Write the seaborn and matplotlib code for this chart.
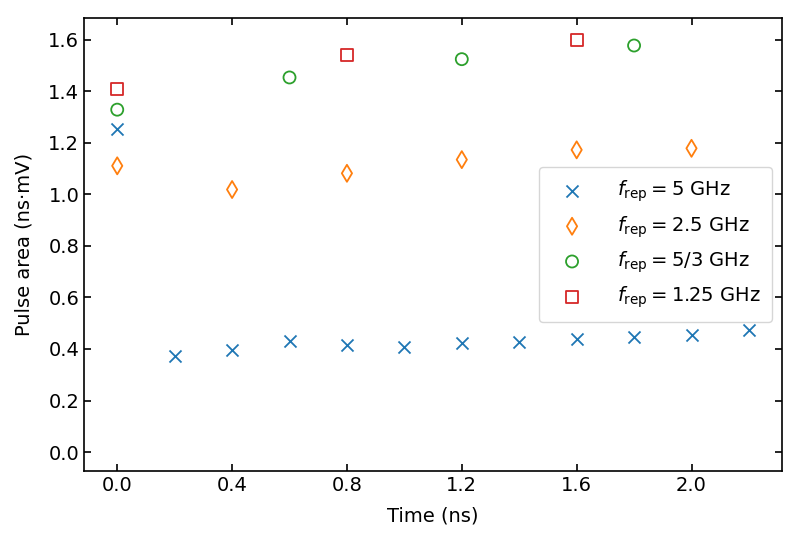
import pandas as pd
import matplotlib
matplotlib.use("Agg")
import matplotlib.pyplot as plt
import seaborn as sns

sns.set_style("ticks")
plt.rcParams["font.family"] = ["DejaVu Sans"]
plt.rcParams["xtick.direction"] = "in"
plt.rcParams["ytick.direction"] = "in"
plt.rcParams["xtick.top"] = True
plt.rcParams["ytick.right"] = True
for key in ["text.color", "axes.labelcolor", "xtick.color", "ytick.color", "axes.edgecolor"]:
    plt.rcParams[key] = "black"

# ------------------------------------------------
# DATA
# ------------------------------------------------
t_5 = [0.0, 0.2, 0.4, 0.6, 0.8, 1.0, 1.2, 1.4, 1.6, 1.8, 2.0, 2.2]
area_5 = [1.254, 0.374, 0.398, 0.432, 0.414, 0.407, 0.422, 0.429, 0.440, 0.447, 0.455, 0.472]

t_25 = [0.0, 0.4, 0.8, 1.2, 1.6, 2.0]
area_25 = [1.111, 1.019, 1.082, 1.135, 1.173, 1.179]

t_53 = [0.0, 0.6, 1.2, 1.8]
area_53 = [1.329, 1.454, 1.525, 1.578]

t_125 = [0.0, 0.8, 1.6]
area_125 = [1.410, 1.541, 1.601]

labels = [
    r"$f_\mathrm{rep} = 5$ GHz",
    r"$f_\mathrm{rep} = 2.5$ GHz",
    r"$f_\mathrm{rep} = 5/3$ GHz",
    r"$f_\mathrm{rep} = 1.25$ GHz",
]
colors = ["#1f77b4", "#ff7f0e", "#2ca02c", "#d62728"]

# ------------------------------------------------
# PLOT
# ------------------------------------------------
fig, ax = plt.subplots(figsize=(8.02, 5.44), dpi=100)

sns.scatterplot(x=t_5, y=area_5, marker="x", color=colors[0], s=75,
                linewidth=1.3, label=labels[0], ax=ax)

series = [(t_25, area_25, "d"), (t_53, area_53, "o"), (t_125, area_125, "s")]
for (t, a, m), lab, c in zip(series, labels[1:], colors[1:]):
    sns.scatterplot(x=t, y=a, marker=m, facecolor="none", edgecolor=c,
                    s=75, linewidth=1.3, label=lab, ax=ax)

ax.set_xticks([0.0, 0.4, 0.8, 1.2, 1.6, 2.0])
ax.set_xlim(-0.115, 2.315)
ax.set_ylim(-0.074, 1.685)
ax.set_xlabel("Time (ns)", fontsize=14, labelpad=8)
ax.set_ylabel("Pulse area (ns·mV)", fontsize=14, labelpad=11)
ax.tick_params(labelsize=14, length=5, width=1.2)
for sp in ax.spines.values():
    sp.set_linewidth(1.2)

ax.legend(loc="center right", fontsize=14, borderpad=0.6,
          handletextpad=1.2, handlelength=2.2)

fig.subplots_adjust(left=0.105, right=0.975, top=0.967, bottom=0.134)
plt.savefig("out.png", dpi=100)
